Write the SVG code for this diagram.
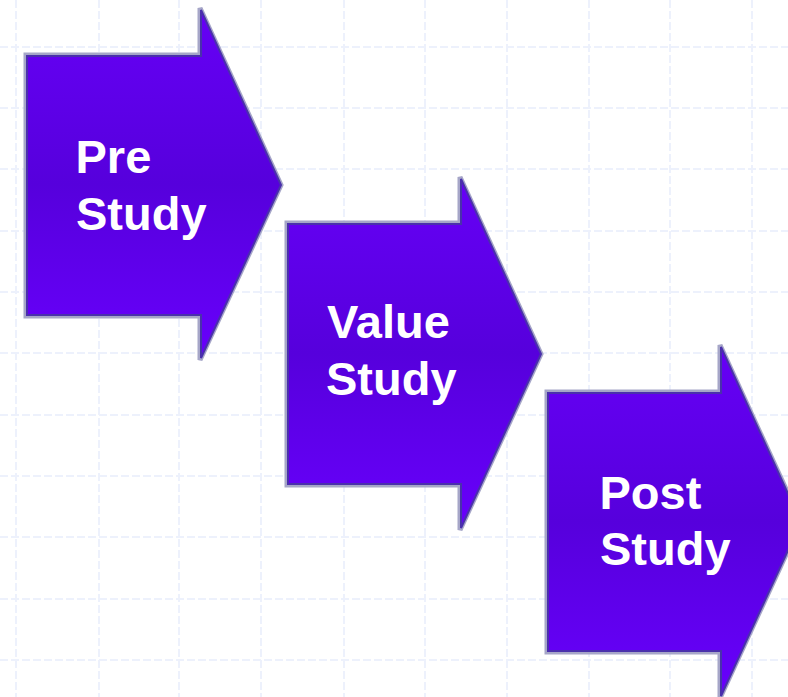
<svg xmlns="http://www.w3.org/2000/svg" width="788" height="697" viewBox="0 0 788 697">
<defs>
<linearGradient id="fillg" x1="0" y1="0" x2="0" y2="1">
<stop offset="0" stop-color="#6600f6"/>
<stop offset="0.5" stop-color="#5600dc"/>
<stop offset="1" stop-color="#6800fc"/>
</linearGradient>
<style>
.grid line{stroke:#edf1fc;stroke-width:2;stroke-dasharray:8 3}
.outer{fill:none;stroke:#a6a6c8;stroke-width:5;stroke-linejoin:miter}
.shape{fill:url(#fillg);stroke:#4a30ac;stroke-width:2;stroke-linejoin:miter}
.lbl{font-family:"Liberation Sans",Arial,sans-serif;font-weight:bold;font-size:47px;fill:#ffffff}
</style>
</defs>
<rect width="788" height="697" fill="#ffffff"/>
<g class="grid">
<line x1="16" y1="0" x2="16" y2="697"/>
<line x1="99" y1="0" x2="99" y2="697"/>
<line x1="179" y1="0" x2="179" y2="697"/>
<line x1="261" y1="0" x2="261" y2="697"/>
<line x1="344" y1="0" x2="344" y2="697"/>
<line x1="425" y1="0" x2="425" y2="697"/>
<line x1="507" y1="0" x2="507" y2="697"/>
<line x1="589" y1="0" x2="589" y2="697"/>
<line x1="670" y1="0" x2="670" y2="697"/>
<line x1="752" y1="0" x2="752" y2="697"/>
<line x1="0" y1="47" x2="788" y2="47"/>
<line x1="0" y1="108" x2="788" y2="108"/>
<line x1="0" y1="169" x2="788" y2="169"/>
<line x1="0" y1="231" x2="788" y2="231"/>
<line x1="0" y1="292" x2="788" y2="292"/>
<line x1="0" y1="353" x2="788" y2="353"/>
<line x1="0" y1="415" x2="788" y2="415"/>
<line x1="0" y1="476" x2="788" y2="476"/>
<line x1="0" y1="537" x2="788" y2="537"/>
<line x1="0" y1="599" x2="788" y2="599"/>
<line x1="0" y1="660" x2="788" y2="660"/>
</g>
<g id="pre-study">
<polygon class="outer" points="26,55 200,55 200,8 281,185 200,360 200,316 26,316"/>
<polygon class="shape" points="27,56 201,56 201,10 281,185 201,358 201,315 27,315"/>
<text class="lbl" x="75.5" y="173">Pre</text>
<text class="lbl" x="76" y="230">Study</text>
</g>
<g id="value-study">
<polygon class="outer" points="287,223 460,223 460,177 541,354 460,530 460,485 287,485"/>
<polygon class="shape" points="288,224 461,224 461,179 541,354 461,528 461,484 288,484"/>
<text class="lbl" x="327" y="338">Value</text>
<text class="lbl" x="326" y="395">Study</text>
</g>
<g id="post-study">
<polygon class="outer" points="547,392 720,392 720,345 801,522 720,698 720,652 547,652"/>
<polygon class="shape" points="548,393 721,393 721,347 801,522 721,696 721,651 548,651"/>
<text class="lbl" x="599.5" y="509">Post</text>
<text class="lbl" x="600" y="565">Study</text>
</g>
<g id="connectors"></g>
</svg>
